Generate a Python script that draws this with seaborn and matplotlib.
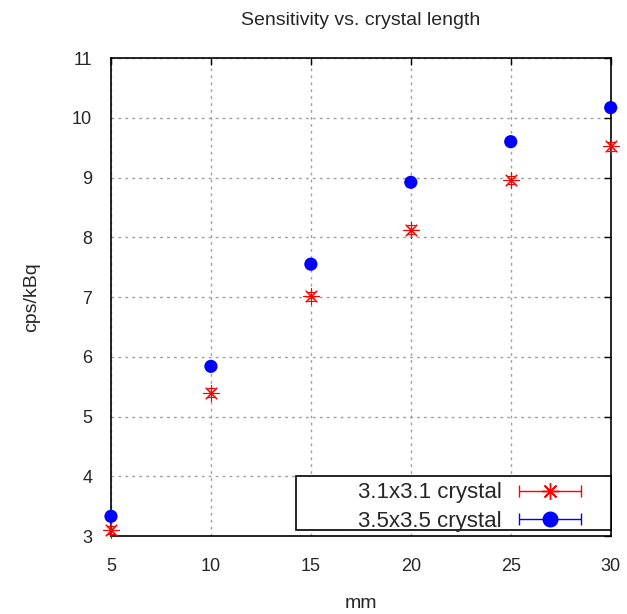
import numpy as np
import pandas as pd
import matplotlib
matplotlib.use("Agg")
import matplotlib.pyplot as plt
import seaborn as sns
from matplotlib.lines import Line2D
from matplotlib.patches import Rectangle
from matplotlib.container import ErrorbarContainer
from matplotlib.legend_handler import HandlerErrorbar

length_mm = [5, 10, 15, 20, 25, 30]
sens_31 = [3.10, 5.40, 7.01, 8.13, 8.96, 9.52]
err_31 = [0.07, 0.07, 0.07, 0.07, 0.07, 0.07]
sens_35 = [3.33, 5.84, 7.55, 8.92, 9.60, 10.17]
err_35 = [0.05, 0.05, 0.05, 0.05, 0.05, 0.05]
labels = ["3.1x3.1 crystal", "3.5x3.5 crystal"]

sns.set_theme(style="white")
plt.rcParams['font.family'] = ['Liberation Sans', 'DejaVu Sans']

df = pd.DataFrame({
    "mm": length_mm * 2,
    "cps": sens_31 + sens_35,
    "err": err_31 + err_35,
    "series": [labels[0]] * 6 + [labels[1]] * 6,
})

fig = plt.figure(figsize=(6.27, 6.14), dpi=100)
ax = fig.add_axes([0.177, 0.127, 0.797, 0.7785])

colors = {labels[0]: "red", labels[1]: "blue"}
markers = {labels[0]: (8, 2, 0), labels[1]: "o"}
sizes = {labels[0]: 11, labels[1]: 9.5}

for lab in labels:
    sub = df[df.series == lab]
    ax.errorbar(sub.mm, sub.cps, yerr=sub.err, fmt="none", ecolor=colors[lab],
                elinewidth=0.8, capsize=3, capthick=0.8, clip_on=False, zorder=3)
    sns.scatterplot(data=sub, x="mm", y="cps", ax=ax, color=colors[lab],
                    marker=markers[lab], s=sizes[lab] ** 2,
                    edgecolor=colors[lab] if lab == labels[0] else "none",
                    linewidth=0.8, clip_on=False, zorder=4, legend=False)

ax.set_xlim(5, 30)
ax.set_ylim(3, 11)
ax.set_xticks(length_mm)
ax.set_yticks(range(3, 12))
ax.grid(True, color="#a0a0a0", linestyle=(0, (2, 3)), linewidth=1)
for s in ax.spines.values():
    s.set_color("black")
    s.set_linewidth(1.2)
ax.tick_params(direction="in", length=5, width=1, top=True, right=True,
               labelsize=13, color="black")
ax.tick_params(axis="x", pad=16)
ax.tick_params(axis="y", pad=13.5)
ax.set_title("Sensitivity vs. crystal length", fontsize=14, pad=24)
ax.set_xlabel("mm", fontsize=14, labelpad=14)
ax.set_ylabel("cps/kBq", fontsize=14, labelpad=23)

# legend box (gnuplot style key)
ax.add_patch(Rectangle((0.37, 0.0126), 0.63, 0.113, transform=ax.transAxes,
                       facecolor="white", edgecolor="black", linewidth=1.2,
                       zorder=5, clip_on=False))

handles = []
for lab in labels:
    h = ax.errorbar([np.nan], [np.nan], xerr=[1], fmt="none", ecolor=colors[lab],
                    elinewidth=1, capsize=4, capthick=1)
    handles.append(h)
mk = [Line2D([], [], linestyle="none", marker=markers[lab], color=colors[lab],
             markersize=sizes[lab] + 1, markeredgewidth=1) for lab in labels]
leg = ax.legend([(handles[i], mk[i]) for i in range(2)], labels, loc="lower right",
                bbox_to_anchor=(0.948, 0.0021), markerfirst=False, fontsize=16,
                frameon=False, borderpad=0.15, handlelength=2.8,
                handletextpad=0.8, borderaxespad=0, labelspacing=0.325,
                handler_map={ErrorbarContainer: HandlerErrorbar(xerr_size=1.4)})
leg.set_zorder(6)

fig.savefig("out.png", dpi=100)
